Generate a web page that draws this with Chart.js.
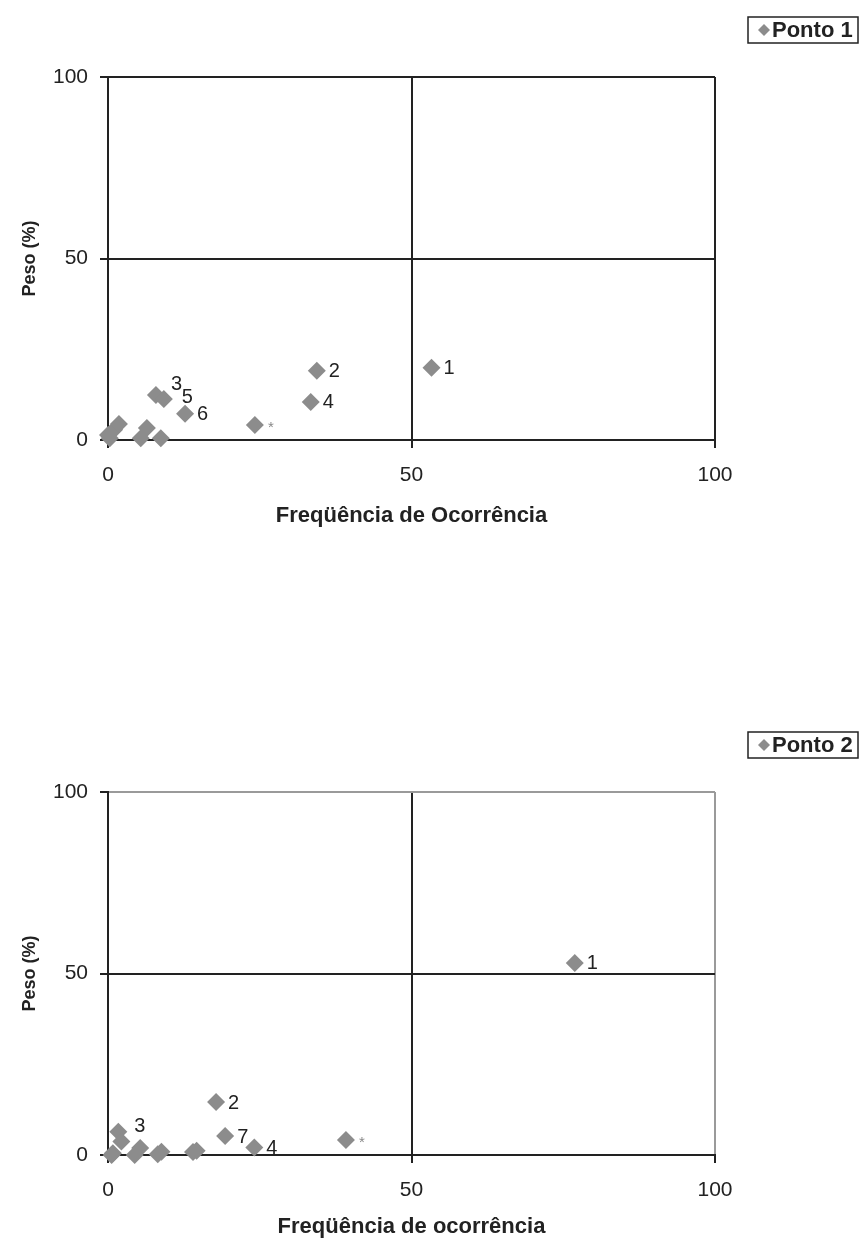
<!DOCTYPE html>
<html>
<head>
<meta charset="utf-8">
<script src="https://cdn.jsdelivr.net/npm/chart.js@4.4.1/dist/chart.umd.min.js"></script>
<style>
  html, body { margin: 0; padding: 0; background: #fff; }
  canvas { display: block; }
</style>
</head>
<body>
<canvas id="chart1" width="859" height="715"></canvas>
<canvas id="chart2" width="859" height="529"></canvas>
<script>
// ---- Ponto 1 ----
const ponto1X = [53.3, 34.4, 7.9, 33.4, 9.2, 12.7, 24.2, 1.0, 1.8, 0.3, 0.0, 6.4, 5.4, 8.7];
const ponto1Y = [19.9, 19.1, 12.4, 10.5, 11.3, 7.2, 4.1, 2.8, 4.4, 0.5, 1.4, 3.3, 0.5, 0.5];
const ponto1Labels = ['1', '2', '3', '4', '5', '6', '*', '', '', '', '', '', '', ''];

// ---- Ponto 2 ----
const ponto2X = [76.9, 17.8, 1.7, 24.1, 19.3, 39.2, 2.2, 0.8, 0.6, 5.3, 4.4, 8.8, 8.2, 14.6, 14.0];
const ponto2Y = [52.9, 14.6, 6.4, 2.1, 5.2, 4.1, 3.7, 0.5, 0.0, 1.9, 0.0, 0.9, 0.2, 1.2, 0.8];
const ponto2Labels = ['1', '2', '3', '4', '7', '*', '', '', '', '', '', '', '', '', ''];

const axisMin = 0;
const axisMax = 100;
const axisStep = 50;
const yTitle = 'Peso (%)';
const xTitle1 = 'Freqüência de Ocorrência';
const xTitle2 = 'Freqüência de ocorrência';

const INK = '#222';
const MARK = '#8c8c8c';

// Writes the number next to each diamond
const pointLabels = {
  id: 'pointLabels',
  afterDatasetsDraw(chart, args, opts) {
    const ctx = chart.ctx;
    const labels = opts.labels || [];
    const nudge = opts.nudge || {};
    const meta = chart.getDatasetMeta(0);
    ctx.save();
    ctx.textAlign = 'left';
    ctx.textBaseline = 'middle';
    meta.data.forEach((pt, i) => {
      const t = labels[i];
      if (!t) return;
      const n = nudge[t] || [0, 0];
      if (t === '*') {
        ctx.fillStyle = '#888';
        ctx.font = '15px "Liberation Sans", Arial, sans-serif';
        ctx.fillText(t, pt.x + 13 + n[0], pt.y + 3 + n[1]);
      } else {
        ctx.fillStyle = INK;
        ctx.font = '20px "Liberation Sans", Arial, sans-serif';
        ctx.fillText(t, pt.x + 12 + n[0], pt.y + 1 + n[1]);
      }
    });
    ctx.restore();
  }
};

// Framed legend box in the top-right corner
const boxLegend = {
  id: 'boxLegend',
  afterDraw(chart, args, opts) {
    const ctx = chart.ctx;
    const x = 748, y = 17, w = 110, h = 26;
    ctx.save();
    ctx.fillStyle = '#fff';
    ctx.fillRect(x, y, w, h);
    ctx.strokeStyle = INK;
    ctx.lineWidth = 1.5;
    ctx.strokeRect(x, y, w, h);
    const cx = x + 16, cy = y + h / 2, r = 6;
    ctx.fillStyle = MARK;
    ctx.beginPath();
    ctx.moveTo(cx, cy - r);
    ctx.lineTo(cx + r, cy);
    ctx.lineTo(cx, cy + r);
    ctx.lineTo(cx - r, cy);
    ctx.closePath();
    ctx.fill();
    ctx.fillStyle = INK;
    ctx.font = 'bold 22px "Liberation Sans", Arial, sans-serif';
    ctx.textAlign = 'left';
    ctx.textBaseline = 'middle';
    ctx.fillText(opts.text, x + 24, cy + 1);
    ctx.restore();
  }
};

function makeChart(id, xs, ys, labels, name, xTitle, frameColor, nudge, bottomPad, xTitlePad) {
  const points = xs.map((v, i) => ({ x: v, y: ys[i] }));
  const gridColor = (ctx) => {
    const v = ctx.tick.value;
    if (v === axisMin) return 'rgba(0,0,0,0)';
    if (v === axisMax) return frameColor;
    return INK;
  };
  const tickFont = { family: '"Liberation Sans", Arial, sans-serif', size: 21 };
  const xTitleFont = { family: '"Liberation Sans", Arial, sans-serif', size: 22, weight: 'bold' };
  const yTitleFont = { family: '"Liberation Sans", Arial, sans-serif', size: 18, weight: 'bold' };
  return new Chart(document.getElementById(id), {
    type: 'scatter',
    data: {
      datasets: [{
        label: name,
        data: points,
        pointStyle: 'rectRot',
        pointRadius: 9,
        pointHoverRadius: 9,
        backgroundColor: MARK,
        borderColor: MARK,
        borderWidth: 0,
        clip: false
      }]
    },
    options: {
      responsive: false,
      animation: false,
      events: [],
      layout: { padding: { left: 0, right: 144, top: 77, bottom: bottomPad } },
      plugins: {
        legend: { display: false },
        tooltip: { enabled: false },
        pointLabels: { labels: labels, nudge: nudge },
        boxLegend: { text: name }
      },
      scales: {
        x: {
          type: 'linear',
          min: axisMin,
          max: axisMax,
          afterFit: (s) => { s.height = 89; },
          ticks: { stepSize: axisStep, font: tickFont, color: INK, padding: 15, maxRotation: 0 },
          grid: { color: gridColor, lineWidth: 2, tickLength: 8, tickColor: INK, tickWidth: 2 },
          border: { color: INK, width: 2 },
          title: { display: true, text: xTitle, font: xTitleFont, color: INK, padding: { top: 0, bottom: xTitlePad } }
        },
        y: {
          type: 'linear',
          min: axisMin,
          max: axisMax,
          afterFit: (s) => { s.width = 108; },
          ticks: { stepSize: axisStep, font: tickFont, color: INK, padding: 12 },
          grid: { color: gridColor, lineWidth: 2, tickLength: 8, tickColor: INK, tickWidth: 2 },
          border: { color: INK, width: 2 },
          title: { display: true, text: yTitle, font: yTitleFont, color: INK, padding: { top: 19, bottom: 0 } }
        }
      }
    },
    plugins: [pointLabels, boxLegend]
  });
}

makeChart('chart1', ponto1X, ponto1Y, ponto1Labels, 'Ponto 1', xTitle1, INK,
  { '3': [3, -12], '5': [6, -2] }, 186, 0);
makeChart('chart2', ponto2X, ponto2Y, ponto2Labels, 'Ponto 2', xTitle2, '#9a9a9a',
  { '3': [4, -6] }, 0, 4);
</script>
</body>
</html>
